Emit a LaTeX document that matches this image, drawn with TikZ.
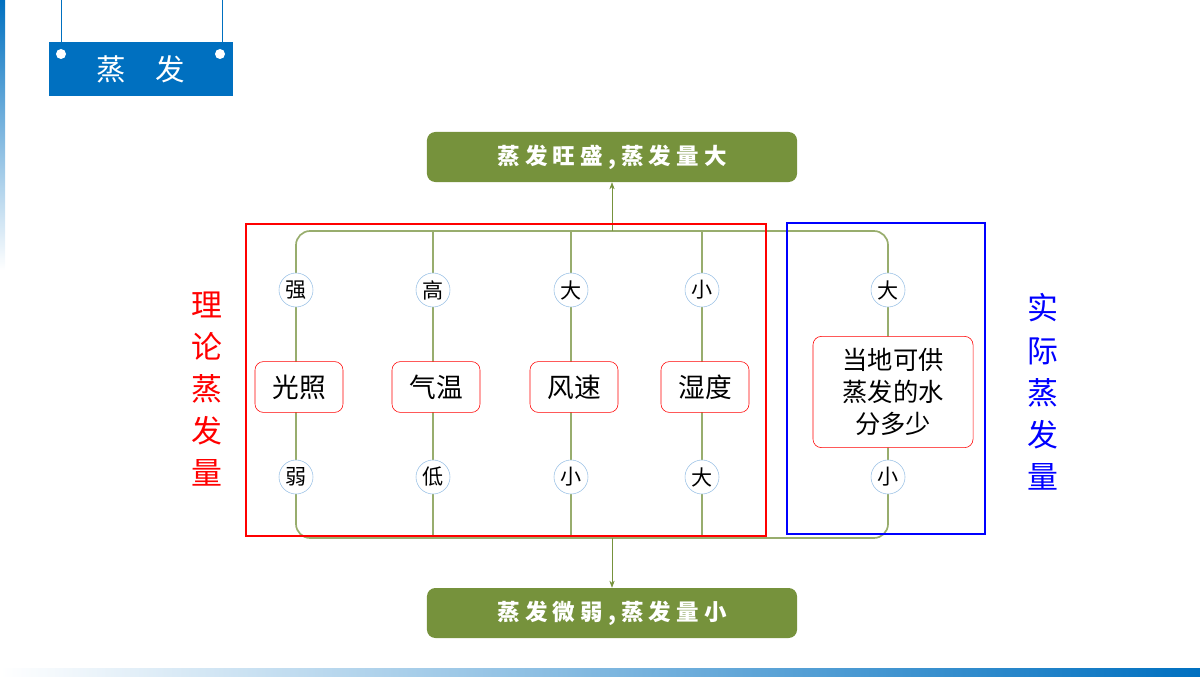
\documentclass[tikz,border=0pt]{standalone}
\usepackage{fontspec}
\setmainfont{Noto Sans CJK SC}
\usetikzlibrary{arrows.meta,positioning}
\definecolor{hdblue}{RGB}{0,112,192}
\definecolor{lfgreen}{RGB}{118,146,60}
\definecolor{lnblue}{RGB}{155,194,230}
\tikzset{
  greenbox/.style={draw=none,fill=lfgreen,rounded corners=6pt,minimum width=9.25cm,minimum height=1.25cm,text=white,font=\bfseries\fontsize{16}{18}\selectfont},
  grade/.style={circle,draw=lnblue,fill=white,minimum size=0.85cm,inner sep=0pt,font=\fontsize{15}{17}\selectfont},
  factor/.style={draw=red,fill=white,rounded corners=6pt,minimum width=2.2cm,minimum height=1.27cm,font=\fontsize{19}{21}\selectfont},
  stem/.style={lfgreen!75,line width=1.2pt},
  flow/.style={lfgreen,-{Stealth[length=5pt]}}
}
\begin{document}
\begin{tikzpicture}[x=0.025cm,y=-0.025cm]
\useasboundingbox (0,0) rectangle (1200,676);
% background strips
\shade[top color=hdblue,bottom color=white] (0,0) rectangle (5,270);
\shade[left color=white,right color=hdblue] (0,668) rectangle (1200,676);
% header plate
\draw[hdblue] (61,0) -- (61,42) (222,0) -- (222,42);
\node[fill=hdblue,minimum width=4.6cm,minimum height=1.35cm,text=white,font=\fontsize{21}{23}\selectfont] (title) at (141,69) {蒸\quad 发};
\fill[white] (61,54) circle (5) (220,54) circle (5);
% outcomes
\node[greenbox] (high) at (612,157) {蒸 发 旺 盛 , 蒸 发 量 大};
\node[greenbox] (low) at (612,613) {蒸 发 微 弱 , 蒸 发 量 小};
% frame of stems
\draw[stem,rounded corners=10pt] (296,260) -- (296,231) -- (888,231) -- (888,260);
\draw[stem,rounded corners=10pt] (296,510) -- (296,538) -- (888,538) -- (888,510);
\coordinate (topmid) at (612,231);
\coordinate (botmid) at (612,538);
\draw[flow] (topmid) -- (high);
\draw[flow] (botmid) -- (low);
% factors
\foreach \x/\up/\f/\dn [count=\i] in {296/强/光照/弱,433/高/气温/低,571/大/风速/小,702/小/湿度/大}{
  \draw[stem] (\x,250) -- (\x,520);
  \node[grade] (up\i) at (\x,290) {\up};
  \node[grade] (dn\i) at (\x,477) {\dn};
  \node[factor] (f\i) at (\x+3,387) {\f};
}
\draw[stem] (888,250) -- (888,520);
\draw[stem] (433,231) -- (433,250) (571,231) -- (571,250) (702,231) -- (702,250);
\draw[stem] (433,520) -- (433,538) (571,520) -- (571,538) (702,520) -- (702,538);
\node[grade] (up5) at (888,290) {大};
\node[grade] (dn5) at (888,477) {小};
\node[factor,minimum width=4cm,minimum height=2.78cm,align=center,inner sep=2pt,font=\fontsize{18}{23}\selectfont] (f5) at (893,392) {当地可供\\蒸发的水\\分多少};
% groups
\draw[red,line width=1.5pt] (246,224) rectangle (766,536);
\draw[blue,line width=1.5pt] (787,223) rectangle (985,534);
\node[red,font=\fontsize{22}{30}\selectfont,align=center,inner sep=0pt] (theory) at (207,389) {理\\论\\蒸\\发\\量};
\node[blue,font=\fontsize{22}{30}\selectfont,align=center,inner sep=0pt] (actual) at (1043,392) {实\\际\\蒸\\发\\量};
\end{tikzpicture}
\end{document}
